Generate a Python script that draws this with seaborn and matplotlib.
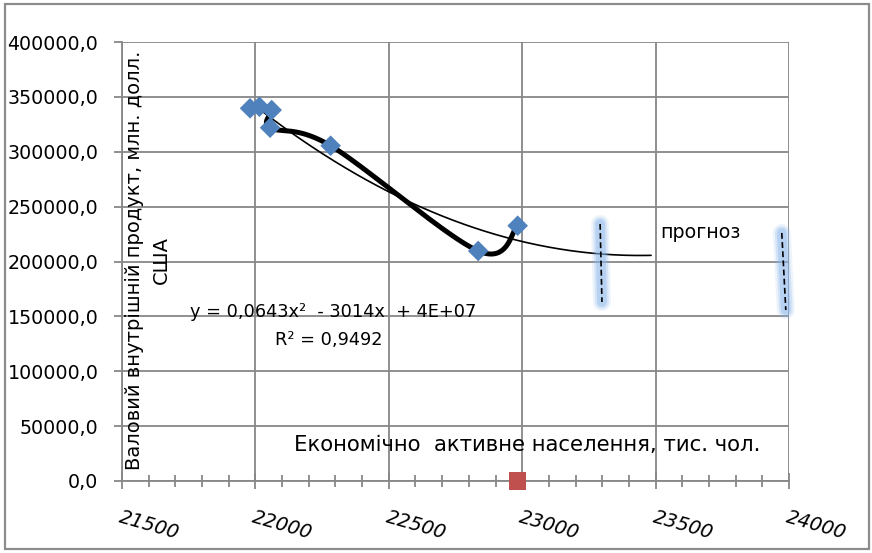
import numpy as np
import pandas as pd
import matplotlib
matplotlib.use("Agg")
import matplotlib.pyplot as plt
from matplotlib.patches import Rectangle
from matplotlib.ticker import MultipleLocator, FuncFormatter
import seaborn as sns

# economically active population (ths) vs GDP (mln USD), in plotted order
population = [21980, 22015, 22061, 22055, 22282, 22835, 22983]
gdp = [339600, 341000, 338000, 321900, 305500, 209600, 232600]

# second series: single red point sitting on the x axis
extra_x = [22983]
extra_y = [0]

# hand drawn "forecast" strokes
forecast_x = [[23292, 23299], [23973, 23988]]
forecast_y = [[234200, 163100], [226000, 155800]]

x_ticks = [21500, 22000, 22500, 23000, 23500, 24000]
y_ticks = [0, 50000, 100000, 150000, 200000, 250000, 300000, 350000, 400000]

eq_text = "y = 0,0643x²  - 3014x  + 4E+07"
r2_text = "R² = 0,9492"

W, H = 872, 553
sns.set_style("white")
plt.rcParams['font.family'] = ['DejaVu Sans']
plt.rcParams['text.color'] = 'black'
plt.rcParams['xtick.color'] = 'black'
plt.rcParams['ytick.color'] = 'black'

fig = plt.figure(figsize=(W / 100, H / 100), dpi=100)
ax = fig.add_axes([122 / W, 1 - 481 / H, (789 - 122) / W, (481 - 42) / H])

xlim = (x_ticks[0], x_ticks[-1])
ylim = (y_ticks[0], y_ticks[-1])
ax.set_xlim(*xlim)
ax.set_ylim(*ylim)

grid_c = '#878787'


def smooth(xs, ys, sx, sy, n=40):
    # excel style smoothed line (catmull-rom bezier), done in pixel space
    p = np.column_stack([np.asarray(xs, float) / sx, np.asarray(ys, float) / sy])
    pts = np.vstack([p[0], p, p[-1]])
    t = np.linspace(0, 1, n)[:, None]
    out = []
    for i in range(1, len(pts) - 2):
        p0, p1, p2, p3 = pts[i - 1], pts[i], pts[i + 1], pts[i + 2]
        c1 = p1 + (p2 - p0) / 6
        c2 = p2 - (p3 - p1) / 6
        out.append((1 - t) ** 3 * p1 + 3 * (1 - t) ** 2 * t * c1
                   + 3 * (1 - t) * t ** 2 * c2 + t ** 3 * p2)
    out = np.vstack(out)
    return out[:, 0] * sx, out[:, 1] * sy


sx = (xlim[1] - xlim[0]) / 667
sy = (ylim[1] - ylim[0]) / 439
smx, smy = smooth(population, gdp, sx, sy)
smooth_df = pd.DataFrame({'x': smx, 'y': smy})

# polynomial trend, forecast forward 500
coef = np.polyfit(population, gdp, 2)
tx = np.linspace(min(population), max(population) + 500, 300)
trend_df = pd.DataFrame({'x': tx, 'y': np.polyval(coef, tx)})

df = pd.DataFrame({'population': population, 'gdp': gdp})
df_extra = pd.DataFrame({'population': extra_x, 'gdp': extra_y})

sns.lineplot(data=trend_df, x='x', y='y', color='black', lw=1.2, ax=ax,
             sort=False, estimator=None, zorder=3)
sns.lineplot(data=smooth_df, x='x', y='y', color='black', lw=3.6, ax=ax,
             sort=False, estimator=None, zorder=4)
sns.scatterplot(data=df, x='population', y='gdp', marker='D', s=110,
                color='#4F81BD', edgecolor='none', ax=ax, zorder=5)
sns.scatterplot(data=df_extra, x='population', y='gdp', marker='s', s=150,
                color='#C0504D', edgecolor='none', ax=ax, zorder=6, clip_on=False)

# forecast strokes with a soft blue glow
for fx, fy in zip(forecast_x, forecast_y):
    for w, a in [(13, 0.15), (10, 0.25), (7, 0.4)]:
        ax.plot(fx, fy, color='#8AB6EA', lw=w, alpha=a, solid_capstyle='round',
                clip_on=False, zorder=6)
    ax.plot(fx, fy, color='black', lw=1.2, ls=(0, (3.5, 2)), clip_on=False, zorder=7)

# grid & axes
ax.set_xticks(x_ticks)
ax.set_yticks(y_ticks)
ax.xaxis.set_minor_locator(MultipleLocator(100))
ax.grid(True, which='major', color=grid_c, lw=1.3)
ax.set_axisbelow(True)
for s in ['top', 'right']:
    ax.spines[s].set_visible(False)
for s in ['left', 'bottom']:
    ax.spines[s].set_color(grid_c)
    ax.spines[s].set_linewidth(1.3)

ax.yaxis.set_major_formatter(FuncFormatter(lambda v, p: f"{v:.1f}".replace('.', ',')))
ax.tick_params(axis='y', left=True, direction='out', length=6, width=1.3,
               color=grid_c, labelsize=13.7, pad=11)
ax.tick_params(axis='x', which='major', bottom=True, direction='inout', length=12,
               width=1.3, color=grid_c, labelsize=14, pad=13)
ax.tick_params(axis='x', which='minor', bottom=True, direction='inout', length=9,
               width=1.3, color=grid_c)
for lab in ax.get_xticklabels():
    lab.set_rotation(-16)
    lab.set_ha('left')
    lab.set_va('top')
    lab.set_rotation_mode('anchor')
    lab.set_style('italic')
ax.set_xlabel('')
ax.set_ylabel('')


def px(x, y):
    return x / W, 1 - y / H


fig.text(*px(527, 445), 'Економічно  активне населення, тис. чол.', fontsize=15.3,
         ha='center', va='center')
fig.text(*px(148, 260), 'Валовий внутрішній продукт, млн. долл.\nСША', fontsize=14,
         rotation=90, ha='center', va='center', multialignment='center',
         linespacing=1.5)
fig.text(*px(190, 312), eq_text, fontsize=12.8, ha='left', va='center')
fig.text(*px(275, 340), r2_text, fontsize=12.8, ha='left', va='center')
fig.text(*px(660, 233), 'прогноз', fontsize=13.7, ha='left', va='center')

# outer chart frame
fig.patches.append(Rectangle((5 / W, 4 / H), (869 - 5) / W, (549 - 4) / H,
                             transform=fig.transFigure, fill=False,
                             edgecolor='#8C8C8C', lw=1.6))

fig.savefig('out.png', dpi=100)
